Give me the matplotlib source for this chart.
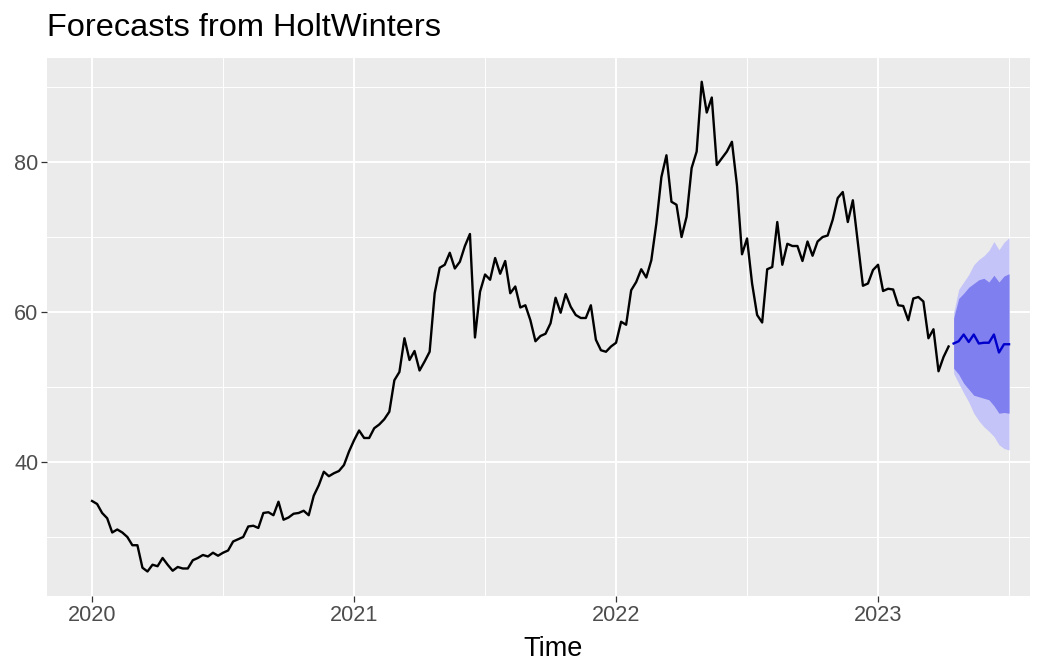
import numpy as np
import matplotlib
matplotlib.use("Agg")
import matplotlib.pyplot as plt

plt.rcParams['font.family'] = ['Liberation Sans', 'DejaVu Sans']

# Observed weekly series (frequency 52), starting 2020.0
start_year = 2020.0
freq = 52
observed = [
    34.8, 34.4, 33.2, 32.5, 30.6, 31.0, 30.6, 30.0, 28.9, 28.9,
    25.9, 25.4, 26.3, 26.1, 27.2, 26.3, 25.5, 26.0, 25.8, 25.8,
    26.9, 27.2, 27.6, 27.4, 27.9, 27.5, 27.9, 28.2, 29.4,
    29.7, 30.0, 31.4, 31.5, 31.2, 33.2, 33.3, 32.9, 34.7, 32.3,
    32.6, 33.1, 33.2, 33.5, 32.9, 35.5, 36.9, 38.7, 38.1, 38.5,
    38.8, 39.6, 41.4, 42.9, 44.2, 43.2, 43.2, 44.5, 45.0,
    45.7, 46.7, 50.9, 52.0, 56.5, 53.6, 54.8, 52.2, 53.4, 54.7,
    62.5, 65.9, 66.3, 67.9, 65.8, 66.7, 68.8, 70.4, 56.6, 62.7,
    65.0, 64.3, 67.2, 65.1, 66.8, 62.5, 63.4, 60.6, 60.9,
    58.9, 56.1, 56.8, 57.1, 58.5, 61.9, 59.9, 62.4, 60.7, 59.6,
    59.2, 59.2, 60.9, 56.3, 54.9, 54.7, 55.4, 55.9, 58.7, 58.3,
    62.9, 64.0, 65.7, 64.6, 66.9, 71.8, 78.0, 80.9, 74.7,
    74.3, 70.0, 72.7, 79.2, 81.4, 90.7, 86.6, 88.6, 79.6, 80.5,
    81.4, 82.7, 76.9, 67.7, 69.8, 63.8, 59.6, 58.6, 65.7, 66.0,
    72.0, 66.3, 69.1, 68.8, 68.8, 66.8, 69.4, 67.5, 69.4,
    70.0, 70.2, 72.3, 75.2, 76.0, 72.0, 74.9, 69.2, 63.5, 63.8,
    65.6, 66.3, 62.8, 63.1, 63.0, 60.9, 60.8, 58.9, 61.8, 62.0,
    61.4, 56.5, 57.7, 52.1, 54.0, 55.4,
]

# Forecast (12 weeks ahead)
fc_mean = [55.8, 56.1, 57.0, 56.0, 57.0, 55.8, 55.9, 55.9, 57.0, 54.6, 55.7, 55.7]
fc_hi95 = [59.9, 63.0, 64.0, 65.0, 66.3, 67.0, 67.5, 68.2, 69.4, 68.3, 69.3, 69.9]
fc_hi80 = [59.2, 61.8, 62.5, 63.3, 63.8, 64.3, 64.5, 64.0, 64.9, 64.0, 64.8, 65.1]
fc_lo80 = [52.5, 51.7, 50.5, 49.7, 48.9, 48.7, 48.5, 48.3, 47.5, 46.5, 46.6, 46.5]
fc_lo95 = [51.8, 50.5, 49.2, 48.0, 46.5, 45.5, 44.7, 44.1, 43.4, 42.3, 41.8, 41.6]

x_ticks = [2020, 2021, 2022, 2023]
x_tick_labels = ["2020", "2021", "2022", "2023"]
x_minor = [2020.5, 2021.5, 2022.5, 2023.5]
y_ticks = [40, 60, 80]
y_minor = [30, 50, 70, 90]
title = "Forecasts from HoltWinters"
x_label = "Time"

n = len(observed)
t_obs = start_year + np.arange(n) / freq
t_fc = start_year + (n + np.arange(len(fc_mean))) / freq

W, H = 1043, 661
fig = plt.figure(figsize=(W / 100, H / 100), dpi=100)
ax = fig.add_axes([47/W, 1 - 596/H, (1030-47)/W, (596-58)/H])
ax.set_facecolor('#EBEBEB')

ax.fill_between(t_fc, fc_lo95, fc_hi95, color='#C4C4F8', lw=0, zorder=2)
ax.fill_between(t_fc, fc_lo80, fc_hi80, color='#7F7FEF', lw=0, zorder=3)
ax.plot(t_obs, observed, color='black', lw=1.7, zorder=4, solid_joinstyle='round')
ax.plot(t_fc, fc_mean, color='#0000CC', lw=1.7, zorder=5, solid_joinstyle='round')

ax.set_xticks(x_ticks)
ax.set_xticklabels(x_tick_labels)
ax.set_xticks(x_minor, minor=True)
ax.set_yticks(y_ticks)
ax.set_yticks(y_minor, minor=True)
ax.set_xlim(2019.828, 2023.58)
ax.set_ylim(22.13, 93.87)

ax.grid(which='major', color='white', lw=1.4, zorder=0)
ax.grid(which='minor', color='white', lw=0.7, zorder=0)
ax.set_axisbelow(True)
for s in ax.spines.values():
    s.set_visible(False)

ax.tick_params(which='major', length=4.3, width=0.9, color='#333333',
               labelcolor='#4D4D4D', labelsize=15.6, pad=2)
ax.tick_params(which='minor', length=0)

ax.set_xlabel(x_label, fontsize=19.5, color='black')
ax.xaxis.label.set_va('baseline')
ax.xaxis.set_label_coords((553 - 47) / (1030 - 47), (596 - 656.5) / (596 - 58))

fig.text(47/W, 1 - 36/H, title, fontsize=23.4, color='black',
         ha='left', va='baseline')

fig.savefig('out.png', dpi=100, facecolor='white')
